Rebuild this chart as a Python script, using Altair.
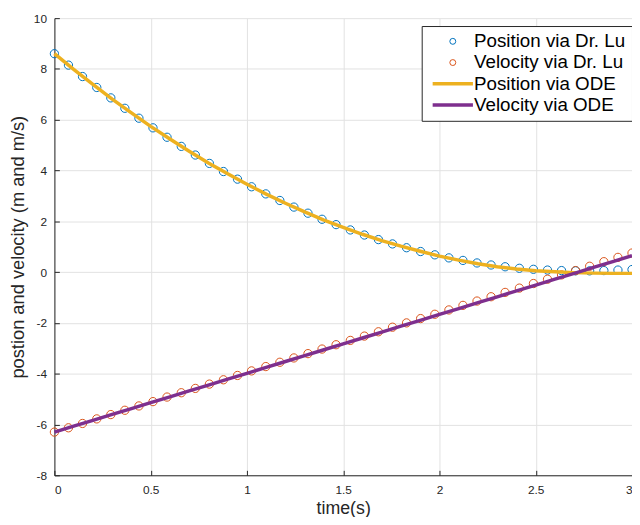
import altair as alt
import pandas as pd

# ---------------- data ----------------
series_names = ["Position via Dr. Lu", "Velocity via Dr. Lu", "Position via ODE", "Velocity via ODE"]
series_colors = ["#0072BD", "#D95319", "#EDB120", "#7E2F8E"]

t_lu = [0.0, 0.073, 0.146, 0.220, 0.293, 0.366, 0.439, 0.512, 0.585, 0.659,
        0.732, 0.805, 0.878, 0.951, 1.024, 1.098, 1.171, 1.244, 1.317, 1.390,
        1.463, 1.537, 1.610, 1.683, 1.756, 1.829, 1.902, 1.976, 2.049, 2.122,
        2.195, 2.268, 2.341, 2.415, 2.488, 2.561, 2.634, 2.707, 2.780, 2.854,
        2.927, 3.0]
pos_lu = [8.60, 8.15, 7.70, 7.27, 6.86, 6.45, 6.06, 5.68, 5.31, 4.95,
          4.61, 4.28, 3.96, 3.66, 3.36, 3.08, 2.82, 2.56, 2.32, 2.08,
          1.87, 1.66, 1.46, 1.28, 1.11, 0.96, 0.81, 0.68, 0.56, 0.46,
          0.36, 0.28, 0.21, 0.15, 0.11, 0.08, 0.06, 0.05, 0.05, 0.06,
          0.08, 0.10]
vel_lu = [-6.30, -6.13, -5.96, -5.78, -5.61, -5.44, -5.27, -5.10, -4.92, -4.75,
          -4.58, -4.41, -4.24, -4.07, -3.89, -3.72, -3.55, -3.38, -3.21, -3.03,
          -2.86, -2.69, -2.52, -2.35, -2.17, -2.00, -1.83, -1.66, -1.49, -1.31,
          -1.14, -0.97, -0.80, -0.63, -0.45, -0.28, -0.11, 0.06, 0.23, 0.41,
          0.58, 0.75]

t_ode = [0.0, 0.1, 0.2, 0.3, 0.4, 0.5, 0.6, 0.7, 0.8, 0.9,
         1.0, 1.1, 1.2, 1.3, 1.4, 1.5, 1.6, 1.7, 1.8, 1.9,
         2.0, 2.1, 2.2, 2.3, 2.4, 2.5, 2.6, 2.7, 2.8, 2.9, 3.0]
pos_ode = [8.60, 7.98, 7.39, 6.81, 6.27, 5.74, 5.24, 4.76, 4.30, 3.87,
           3.46, 3.07, 2.71, 2.37, 2.05, 1.76, 1.49, 1.24, 1.02, 0.82,
           0.63, 0.47, 0.33, 0.21, 0.12, 0.05, 0.01, -0.02, -0.04, -0.05, -0.05]
vel_ode = [-6.300, -6.068, -5.837, -5.605, -5.374, -5.142, -4.910, -4.679, -4.447, -4.216,
           -3.984, -3.752, -3.521, -3.289, -3.058, -2.826, -2.594, -2.363, -2.131, -1.900,
           -1.668, -1.436, -1.205, -0.973, -0.742, -0.510, -0.278, -0.047, 0.185, 0.416, 0.648]

x_ticks = [0, 0.5, 1, 1.5, 2, 2.5, 3]
y_ticks = [-8, -6, -4, -2, 0, 2, 4, 6, 8, 10]

x_title = "time(s)"
y_title = "postion and velocity (m and m/s)"

# ---------------- tables ----------------
df_pts = pd.concat([
    pd.DataFrame({"t": t_lu, "val": pos_lu, "series": series_names[0]}),
    pd.DataFrame({"t": t_lu, "val": vel_lu, "series": series_names[1]}),
], ignore_index=True)
df_lines = pd.concat([
    pd.DataFrame({"t": t_ode, "val": pos_ode, "series": series_names[2]}),
    pd.DataFrame({"t": t_ode, "val": vel_ode, "series": series_names[3]}),
], ignore_index=True)

FONT = "Liberation Sans"
INK = "#262626"
line_sym = "M-6.8,0L6.8,0"
LINE_W = 3.5

sw_expr = "indexof(['%s','%s'], datum.value) >= 0 ? %s : 1" % (
    series_names[2], series_names[3], LINE_W)

legend = alt.Legend(
    title=None, orient="none", legendX=372, legendY=8,
    fillColor="white", strokeColor=INK, padding=6,
    labelFont=FONT, labelFontSize=19, labelColor="#000000",
    symbolSize=36, symbolOffset=16, labelOffset=12, rowPadding=1.5,
    symbolStrokeWidth={"expr": sw_expr},
)

color_enc = alt.Color("series:N", sort=series_names,
                      scale=alt.Scale(domain=series_names, range=series_colors),
                      legend=legend)
shape_enc = alt.Shape("series:N", sort=series_names,
                      scale=alt.Scale(domain=series_names,
                                      range=["circle", "circle", line_sym, line_sym]),
                      legend=legend)

x_scale = alt.Scale(domain=[0, 3], nice=False, zero=False)
y_scale = alt.Scale(domain=[-8, 10], nice=False, zero=False)

main_x_axis = alt.Axis(values=x_ticks, labelExpr="'' + datum.value", grid=True,
                       ticks=False, tickSize=0, domain=True, domainColor=INK,
                       labelFont=FONT, labelFontSize=12, labelColor=INK, labelPadding=9,
                       title=x_title, titleFont=FONT, titleFontSize=18,
                       titleFontWeight="normal", titleColor=INK, titlePadding=5)
main_y_axis = alt.Axis(values=y_ticks, labelExpr="'' + datum.value", grid=True,
                       ticks=False, tickSize=0, domain=True, domainColor=INK,
                       labelFont=FONT, labelFontSize=12, labelColor=INK, labelPadding=8,
                       title=y_title, titleFont=FONT, titleFontSize=18.5,
                       titleFontWeight="normal", titleColor=INK, titlePadding=6)
tick_x_axis = alt.Axis(values=x_ticks, orient="bottom", offset=-5, grid=False,
                       ticks=True, tickSize=5, tickColor=INK, domain=False,
                       labels=False, title=None)
tick_y_axis = alt.Axis(values=y_ticks, orient="left", offset=-5, grid=False,
                       ticks=True, tickSize=5, tickColor=INK, domain=False,
                       labels=False, title=None)

points = alt.Chart(df_pts).mark_point(filled=False, size=70, opacity=1, strokeWidth=1).encode(
    x=alt.X("t:Q", scale=x_scale, axis=main_x_axis),
    y=alt.Y("val:Q", scale=y_scale, axis=main_y_axis),
    color=color_enc, shape=shape_enc,
)
lines = alt.Chart(df_lines).mark_line(strokeWidth=LINE_W).encode(
    x=alt.X("t:Q", scale=x_scale, axis=tick_x_axis),
    y=alt.Y("val:Q", scale=y_scale, axis=tick_y_axis),
    color=color_enc,
)

chart = alt.layer(points, lines).resolve_axis(x="independent", y="independent").properties(
    width=585, height=463,
    autosize=alt.AutoSizeParams(type="none"),
    padding={"left": 47, "top": 7, "right": 0, "bottom": 39},
    background="white",
).configure_view(stroke="transparent").configure_axis(gridColor="#e2e2e2", gridWidth=1)

chart.save("out.html", embed_options={"renderer": "svg", "actions": False})
